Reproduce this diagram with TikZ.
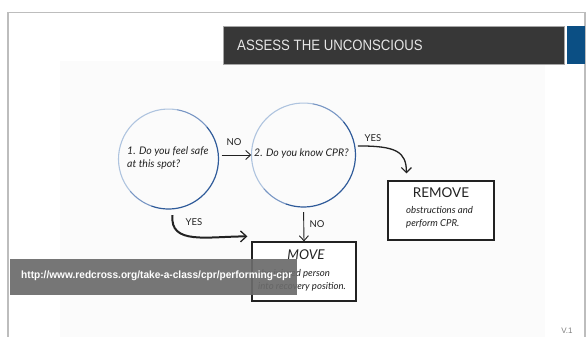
\documentclass[tikz,border=0pt]{standalone}
\usepackage{fontspec}
\setmainfont{Liberation Sans}
\newfontfamily\hand{Lato}
\usetikzlibrary{arrows.meta,calc}
\definecolor{bord}{HTML}{BDBDBD}
\definecolor{titlebg}{HTML}{373737}
\definecolor{titlefg}{HTML}{E6E6E6}
\definecolor{bluebar}{HTML}{0B4F84}
\definecolor{panel}{HTML}{FBFBFB}
\definecolor{cdark}{HTML}{2F5B9A}
\definecolor{cmid}{HTML}{7896C4}
\definecolor{clight}{HTML}{AFC4DF}
\definecolor{ink}{HTML}{222222}
\definecolor{urlbg}{HTML}{6B6B6B}
\tikzset{
  qcircle/.style={circle, minimum size=#1, inner sep=0pt, draw=none},
  handtxt/.style={font=\hand\itshape\fontsize{10.5}{12}\selectfont, text=ink, inner sep=0pt},
  smalltxt/.style={font=\hand\itshape\fontsize{9.6}{11}\selectfont, text=ink, inner sep=0pt},
  lbl/.style={font=\hand\fontsize{9.5}{10}\selectfont, text=ink, inner sep=0pt},
  boxnode/.style={draw=ink, line width=1.2pt, fill=white, inner sep=0pt},
  thinarrow/.style={draw=ink, line width=0.9pt, -{Straight Barb[length=5pt,width=9pt,line width=0.9pt]}},
  thickarrow/.style={draw=ink, line width=1.3pt, -{Straight Barb[length=5pt,width=10pt,line width=1.2pt]}},
  brusharrow/.style={draw=ink, line width=2pt, -{Straight Barb[length=6pt,width=11pt,line width=1.3pt]}},
}
\newcommand{\gradcircle}[2]{%
  \draw[clight, line width=1.1pt] (#1) ++(-220:#2) arc[start angle=-220, end angle=-80, radius=#2];
  \draw[cmid, line width=1.1pt] (#1) ++(-80:#2) arc[start angle=-80, end angle=-40, radius=#2];
  \draw[cmid, line width=1.1pt] (#1) ++(-250:#2) arc[start angle=-250, end angle=-220, radius=#2];
  \draw[cdark, line width=1.2pt] (#1) ++(-40:#2) arc[start angle=-40, end angle=110, radius=#2];
}
\begin{document}
\begin{tikzpicture}[x=1pt,y=-1pt]
\useasboundingbox (0,0) rectangle (586,337);
\fill[white] (0,0) rectangle (586,337);
% panel
\fill[panel] (60,61) rectangle (545,337);
% border
\draw[bord, line width=1.2pt] (8,337) -- (8,12.5) -- (585,12.5) -- (585,337);
% title bars
\node[fill=titlebg, draw=gray!70, line width=0.5pt, minimum width=341pt, minimum height=38pt, inner sep=0pt, anchor=north west] (titlebar) at (223,26) {};
\node[fill=bluebar, minimum width=18pt, minimum height=38pt, inner sep=0pt, anchor=north west] (bluebar) at (567,26) {};
\node[anchor=west, inner sep=0pt, text=titlefg, font=\fontsize{15}{16}\selectfont] (title) at (237,45) {\scalebox{0.88}[1]{ASSESS THE UNCONSCIOUS}};

% circles
\node[qcircle=100pt] (c1) at (168.5,159) {};
\node[qcircle=104pt] (c2) at (303.5,155) {};
\gradcircle{c1.center}{50}
\gradcircle{c2.center}{52}
\node[handtxt, anchor=west, align=left] (t1) at (127,158) {1. Do you feel safe\\[1pt]at this spot?};
\node[handtxt, anchor=west] (t2) at (254,154) {2. Do you know CPR?};

% boxes
\node[boxnode, minimum width=106pt, minimum height=59pt] (remove) at (441,210.5) {};
\node[font=\hand\fontsize{13.5}{14}\selectfont, text=ink, inner sep=0pt] (removeT) at (441,193) {REMOVE};
\node[smalltxt, anchor=west, align=left] (removeS) at (406,217.5) {obstructions and\\[2pt]perform CPR.};

\node[boxnode, minimum width=104pt, minimum height=59pt] (move) at (304,271.5) {};
\node[font=\hand\itshape\fontsize{13.5}{14}\selectfont, text=ink, inner sep=0pt] (moveT) at (306,255) {MOVE};
\node[smalltxt, anchor=west, align=left] (moveS) at (258,280) {the injured person\\[2pt]into recovery position.};

% connectors
\draw[thinarrow, shorten <=3pt] (c1.east |- c2.west) -- (c2.west);
\node[lbl] (noA) at (234,142) {NO};

\coordinate (remTip) at ($(remove.north west)+(19,-7)$);
\draw[thickarrow] (c2.10) ++(3,0) .. controls +(38,0) and +(0,-22) .. (remTip);
\node[lbl] (yesA) at (373,138) {YES};

\draw[thinarrow, shorten <=5pt] (c2.south) -- (move.north);
\node[lbl] (noB) at (317,224) {NO};

\coordinate (moveTip) at ($(move.north west)+(-4,-5)$);
\draw[brusharrow] (c1.south) ++(4,6) .. controls +(-3,30) and +(-40,0) .. (moveTip);
\node[lbl] (yesB) at (194,222) {YES};

% url overlay
\node[fill=urlbg, fill opacity=0.92, minimum width=287pt, minimum height=36pt, inner sep=0pt, anchor=north west] (urlbar) at (10,259) {};
\node[anchor=west, inner sep=0pt, text=white, font=\bfseries\fontsize{10.5}{12}\selectfont] (url) at (21,276) {\scalebox{0.965}[1]{http://www.redcross.org/take-a-class/cpr/performing-cpr}};

\node[text=gray, font=\fontsize{8}{9}\selectfont, inner sep=0pt] (ver) at (567,331) {V.1};
\end{tikzpicture}
\end{document}
